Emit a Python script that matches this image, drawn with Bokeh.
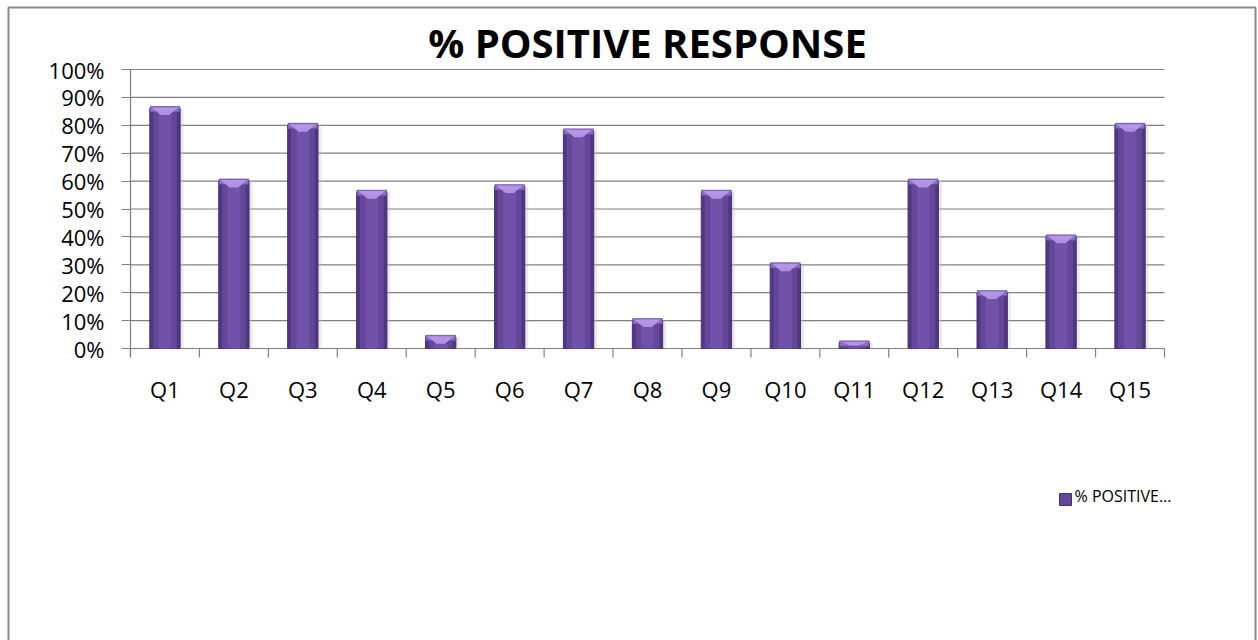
from bokeh.plotting import figure
from bokeh.models import (Range1d, LinearAxis, FixedTicker, NumeralTickFormatter,
                          CustomJSTickFormatter, Grid, Label, BoxAnnotation)
from bokeh.embed import file_html
from bokeh.resources import INLINE

# ---- data -------------------------------------------------------------
questions = ["Q1", "Q2", "Q3", "Q4", "Q5", "Q6", "Q7", "Q8",
             "Q9", "Q10", "Q11", "Q12", "Q13", "Q14", "Q15"]
positive_share = [0.86, 0.60, 0.80, 0.56, 0.04, 0.58, 0.78, 0.10,
                  0.56, 0.30, 0.02, 0.60, 0.20, 0.40, 0.80]
y_ticks = [0.0, 0.1, 0.2, 0.3, 0.4, 0.5, 0.6, 0.7, 0.8, 0.9, 1.0]
chart_title = "% POSITIVE RESPONSE"
series_name = "% POSITIVE\u2026"

# ---- canvas geometry: the plot area occupies px 130..1164 x 69..348 ------
W, H = 1258, 640
AREA_L, AREA_R, AREA_T, AREA_B = 130, 1164, 69, 348
n = len(questions)
px_per_x = (AREA_R - AREA_L) / n
px_per_y = (AREA_B - AREA_T) / 1.0


def dx(px):
    return (px - AREA_L) / px_per_x


def dy(py):
    return (AREA_B - py) / px_per_y


GRID = "#808080"
FONT = "Open Sans"
TICK = 9 / px_per_y
RIM = 2 / px_per_y

# the frame spans the whole canvas; axes are pinned at the data origin
p = figure(width=W, height=H, output_backend="svg", toolbar_location=None,
           title=None,
           x_range=Range1d(dx(0), dx(W)), y_range=Range1d(dy(H), dy(0)),
           x_axis_location=None, y_axis_location=None,
           min_border_left=0, min_border_right=0,
           min_border_top=0, min_border_bottom=0)
p.outline_line_color = None
p.background_fill_color = "white"
p.border_fill_color = "white"
p.center = [r for r in p.center if not isinstance(r, Grid)]

# horizontal gridlines across the category area
p.segment(x0=[0] * len(y_ticks), x1=[n] * len(y_ticks), y0=y_ticks, y1=y_ticks,
          line_color=GRID, line_width=1.2)
# category boundary ticks under the baseline
p.segment(x0=list(range(n + 1)), x1=list(range(n + 1)),
          y0=[0] * (n + 1), y1=[-TICK] * (n + 1), line_color=GRID, line_width=1.2)

# value axis
yax = LinearAxis(fixed_location=0, bounds=(-TICK, 1.0),
                 ticker=FixedTicker(ticks=y_ticks),
                 formatter=NumeralTickFormatter(format="0%"),
                 axis_line_color=GRID, axis_line_width=1.2,
                 major_tick_line_color=GRID, major_tick_line_width=1.2,
                 major_tick_out=9, major_tick_in=0,
                 minor_tick_line_color=None,
                 major_label_text_font=FONT, major_label_text_font_size="22px",
                 major_label_text_color="black", major_label_standoff=17)
p.add_layout(yax, "left")

# category names at bar centres
centers = [i + 0.5 for i in range(n)]
name_ax = LinearAxis(fixed_location=0, ticker=FixedTicker(ticks=centers),
                     formatter=CustomJSTickFormatter(args=dict(names=questions),
                                                     code="return names[Math.floor(tick)]"),
                     axis_line_color=None, major_tick_line_color=None,
                     major_tick_out=0, major_tick_in=0,
                     minor_tick_line_color=None,
                     major_label_text_font=FONT, major_label_text_font_size="22px",
                     major_label_text_color="black", major_label_standoff=25)
p.add_layout(name_ax, "below")

# ---- bars, layered for a rounded / glossy look -------------------------
BAR_W = 0.44
p.vbar(x=[c + 0.05 for c in centers], top=positive_share, width=BAR_W,
       fill_color="#c4c4c4", fill_alpha=0.35, line_color=None)
p.vbar(x=centers, top=positive_share, width=BAR_W,
       fill_color="#523683", line_color="#47306f", line_width=1)
p.vbar(x=centers, top=positive_share, width=BAR_W * 0.78,
       fill_color="#65479a", line_color=None)
p.vbar(x=centers, top=positive_share, width=BAR_W * 0.42,
       fill_color="#7152a9", line_color=None)

# soft lavender bevel at the top of every bar
rim_top = [v + RIM for v in positive_share]
p.vbar(x=centers, top=rim_top, bottom=[max(0.0, v - 0.012) for v in positive_share],
       width=BAR_W - 0.01, fill_color="#8d6cc6", line_color="#6a4c9f", line_width=0.8)
cap_xs, cap_ys = [], []
for c, t, v in zip(centers, rim_top, positive_share):
    d = min(0.03, v * 0.8)
    cap_xs.append([c - BAR_W / 2 + 0.025, c + BAR_W / 2 - 0.025, c + 0.06, c - 0.06])
    cap_ys.append([t - 0.003, t - 0.003, t - d, t - d])
p.patches(xs=cap_xs, ys=cap_ys, fill_color="#bb9cec", fill_alpha=0.85, line_color=None)

# ---- title, legend, chart border ---------------------------------------
p.add_layout(Label(x=n / 2, y=dy(42), text=chart_title, text_align="center",
                   text_baseline="middle", text_font=FONT, text_font_style="bold",
                   text_font_size="40px", text_color="black"))

p.add_layout(BoxAnnotation(left=dx(1059), right=dx(1071), top=dy(493), bottom=dy(505),
                           fill_color="#65479a", fill_alpha=1.0,
                           line_color="#47306f", line_alpha=1.0, line_width=1))
p.add_layout(Label(x=dx(1074), y=dy(495), text=series_name, text_align="left",
                   text_baseline="middle", text_font=FONT,
                   text_font_size="16px", text_color="black"))

p.add_layout(BoxAnnotation(left=dx(8), right=dx(1255), top=dy(7), bottom=dy(720),
                           fill_alpha=0.0, line_color="#8a8a8a", line_alpha=1.0,
                           line_width=2))

open("out.html", "w").write(file_html(p, INLINE))
